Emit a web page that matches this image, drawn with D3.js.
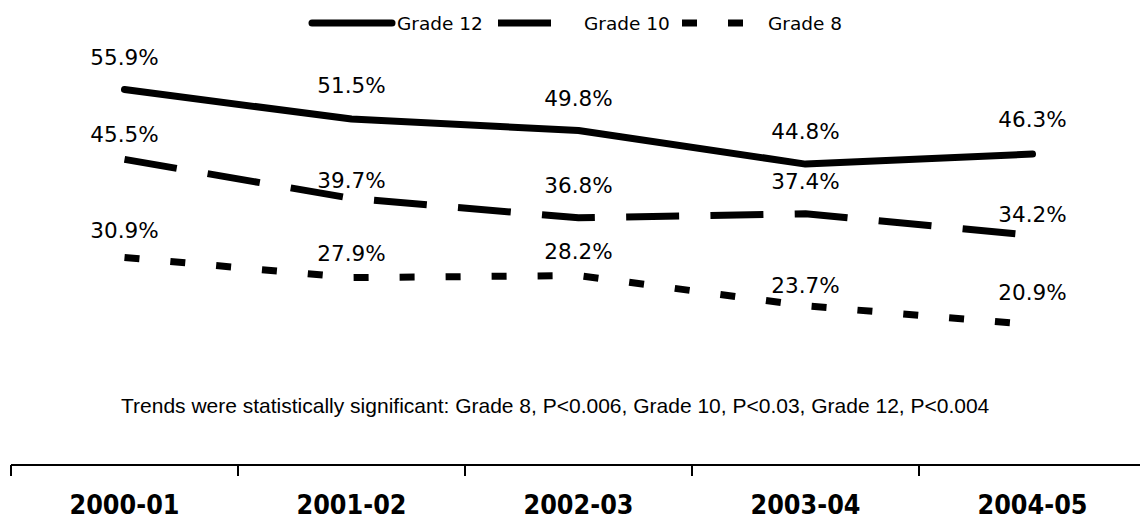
<!DOCTYPE html>
<html><head><meta charset="utf-8">
<script src="https://cdn.jsdelivr.net/npm/d3@7"></script>
<style>body{margin:0;background:#fff}svg{display:block}</style>
</head><body>
<svg id="c" width="1140" height="520"></svg>
<script>
const categories = ["2000-01","2001-02","2002-03","2003-04","2004-05"];
const seriesNames = ["Grade 12","Grade 10","Grade 8"];
const grade12 = [55.9, 51.5, 49.8, 44.8, 46.3];
const grade10 = [45.5, 39.7, 36.8, 37.4, 34.2];
const grade8  = [30.9, 27.9, 28.2, 23.7, 20.9];
const footnote = "Trends were statistically significant: Grade 8, P<0.006, Grade 10, P<0.03, Grade 12, P<0.004";

// label baseline offsets (px above each point) - layout only
const labelOffsets = [
  [25, 26, 25, 25, 27],
  [17, 10, 25, 25, 13],
  [19, 17, 17, 13, 25]
];
const dashes = [null, "53,31.3", "15,31"];

const series = seriesNames.map((name, i) => ({
  name, values: [grade12, grade10, grade8][i], dash: dashes[i], off: labelOffsets[i]
}));

const svg = d3.select("#c");
const x = d3.scaleBand().domain(categories).range([11, 1146]).padding(0);
const y = d3.scaleLinear().domain([0, 60]).range([465, 62]);
const cx = d => x(d) + x.bandwidth()/2;

// axis
const axisY = y(0);
svg.append("line").attr("x1", 11).attr("x2", 1140).attr("y1", axisY).attr("y2", axisY)
  .attr("stroke", "#000").attr("stroke-width", 2);
svg.selectAll(".tick").data(categories).join("line")
  .attr("x1", d => x(d)).attr("x2", d => x(d)).attr("y1", axisY).attr("y2", axisY + 11)
  .attr("stroke", "#000").attr("stroke-width", 2);
svg.selectAll(".cat").data(categories).join("text")
  .attr("x", d => cx(d)).attr("y", 514).attr("text-anchor", "middle")
  .attr("font-family", "DejaVu Sans").attr("font-weight", "bold").attr("font-size", 26)
  .attr("textLength", 110).attr("lengthAdjust", "spacingAndGlyphs")
  .text(d => d);

// lines
const line = d3.line().x((v, i) => cx(categories[i])).y(v => y(v));
series.forEach(s => {
  svg.append("path").attr("d", line(s.values)).attr("fill", "none")
    .attr("stroke", "#000").attr("stroke-width", 7)
    .attr("stroke-linecap", s.dash ? "butt" : "round")
    .attr("stroke-linejoin", "round")
    .attr("stroke-dasharray", s.dash);
  svg.selectAll(null).data(s.values).join("text")
    .attr("x", (v, i) => cx(categories[i]))
    .attr("y", (v, i) => y(v) - s.off[i])
    .attr("text-anchor", "middle")
    .attr("font-family", "DejaVu Sans").attr("font-size", 21.5)
    .text(v => v.toFixed(1) + "%");
});

// legend
const legX = [308, 498, 682];
series.forEach((s, i) => {
  const g = svg.append("g").attr("transform", `translate(${legX[i]},23)`);
  g.append("line").attr("x1", s.dash ? 0 : 4).attr("x2", s.dash ? 84 : 84).attr("y1", 0).attr("y2", 0)
    .attr("stroke", "#000").attr("stroke-width", 7)
    .attr("stroke-linecap", s.dash ? "butt" : "round")
    .attr("stroke-dasharray", s.dash);
  g.append("text").attr("x", s.dash ? 86 : 89).attr("y", 7)
    .attr("font-family", "DejaVu Sans").attr("font-size", 18.5).text(s.name);
});

// footnote
svg.append("text").attr("x", 121).attr("y", 413).attr("text-anchor", "start")
  .attr("font-family", "Liberation Sans, Arial").attr("font-size", 21).text(footnote);
</script>
</body></html>
